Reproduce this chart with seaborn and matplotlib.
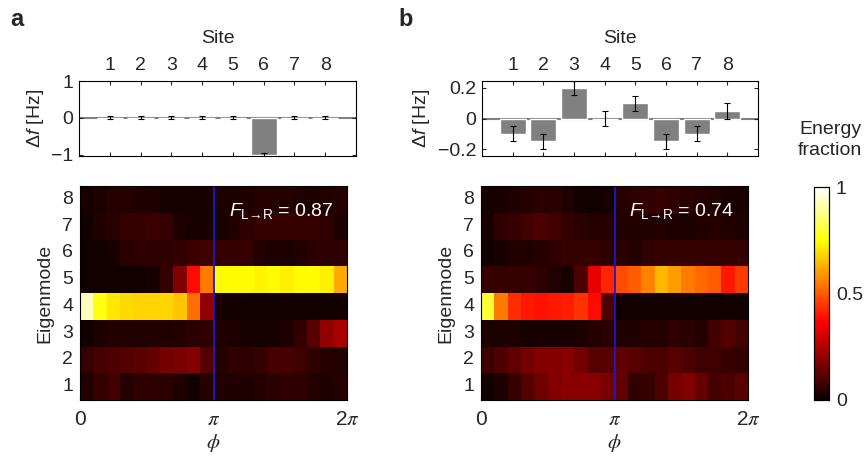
import numpy as np
import pandas as pd
import matplotlib
matplotlib.use("Agg")
import matplotlib.pyplot as plt
import seaborn as sns

# ---------------- data ----------------
sites = [1, 2, 3, 4, 5, 6, 7, 8]
shift_a = [0.0, 0.0, 0.0, 0.0, 0.0, -1.0, 0.0, 0.0]
err_a = [0.04, 0.04, 0.04, 0.04, 0.04, 0.04, 0.04, 0.04]
shift_b = [-0.10, -0.15, 0.20, 0.0, 0.10, -0.15, -0.10, 0.05]
err_b = [0.05, 0.05, 0.045, 0.05, 0.05, 0.05, 0.05, 0.05]

modes = [8, 7, 6, 5, 4, 3, 2, 1]

# energy fraction per eigenmode (20 phase steps from 0 to 2*pi), panel a
a_mode8 = [0.02, 0.03, 0.04, 0.04, 0.035, 0.03, 0.02, 0.02, 0.02, 0.02, 0.03, 0.03, 0.035, 0.04, 0.04, 0.04, 0.035, 0.03, 0.035, 0.04]
a_mode7 = [0.015, 0.035, 0.045, 0.07, 0.07, 0.075, 0.07, 0.03, 0.02, 0.02, 0.02, 0.035, 0.055, 0.065, 0.065, 0.07, 0.065, 0.065, 0.055, 0.03]
a_mode6 = [0.015, 0.015, 0.02, 0.05, 0.055, 0.055, 0.055, 0.06, 0.075, 0.08, 0.07, 0.07, 0.07, 0.035, 0.03, 0.03, 0.035, 0.05, 0.055, 0.055]
a_mode5 = [0.015, 0.015, 0.015, 0.015, 0.015, 0.02, 0.06, 0.18, 0.38, 0.55, 0.74, 0.74, 0.74, 0.73, 0.74, 0.72, 0.74, 0.74, 0.72, 0.62]
a_mode4 = [0.93, 0.76, 0.71, 0.69, 0.68, 0.68, 0.68, 0.66, 0.53, 0.20, 0.02, 0.015, 0.015, 0.015, 0.015, 0.015, 0.015, 0.015, 0.015, 0.015]
a_mode3 = [0.015, 0.03, 0.035, 0.035, 0.035, 0.035, 0.035, 0.04, 0.05, 0.055, 0.035, 0.03, 0.02, 0.02, 0.02, 0.03, 0.06, 0.12, 0.20, 0.24]
a_mode2 = [0.07, 0.09, 0.10, 0.11, 0.12, 0.14, 0.16, 0.17, 0.18, 0.11, 0.04, 0.055, 0.055, 0.065, 0.09, 0.09, 0.08, 0.055, 0.04, 0.035]
a_mode1 = [0.035, 0.07, 0.085, 0.04, 0.055, 0.055, 0.05, 0.035, 0.015, 0.04, 0.035, 0.035, 0.035, 0.04, 0.05, 0.055, 0.055, 0.04, 0.035, 0.04]

# energy fraction per eigenmode, panel b
b_mode8 = [0.02, 0.02, 0.035, 0.04, 0.05, 0.05, 0.035, 0.015, 0.015, 0.02, 0.04, 0.055, 0.06, 0.07, 0.055, 0.05, 0.04, 0.035, 0.02, 0.02]
b_mode7 = [0.02, 0.055, 0.07, 0.085, 0.10, 0.085, 0.07, 0.05, 0.04, 0.04, 0.035, 0.035, 0.035, 0.035, 0.03, 0.03, 0.035, 0.04, 0.035, 0.03]
b_mode6 = [0.015, 0.02, 0.035, 0.035, 0.04, 0.055, 0.065, 0.065, 0.065, 0.055, 0.05, 0.04, 0.055, 0.07, 0.07, 0.07, 0.07, 0.07, 0.065, 0.065]
b_mode5 = [0.07, 0.07, 0.07, 0.07, 0.055, 0.035, 0.02, 0.10, 0.33, 0.42, 0.48, 0.50, 0.56, 0.64, 0.60, 0.55, 0.52, 0.50, 0.40, 0.45]
b_mode4 = [0.80, 0.55, 0.43, 0.40, 0.39, 0.40, 0.41, 0.44, 0.38, 0.10, 0.015, 0.015, 0.015, 0.015, 0.015, 0.015, 0.015, 0.015, 0.015, 0.015]
b_mode3 = [0.03, 0.03, 0.03, 0.02, 0.02, 0.02, 0.02, 0.03, 0.04, 0.05, 0.035, 0.035, 0.04, 0.04, 0.055, 0.05, 0.04, 0.085, 0.11, 0.085]
b_mode2 = [0.08, 0.10, 0.13, 0.16, 0.18, 0.18, 0.19, 0.16, 0.12, 0.12, 0.13, 0.12, 0.10, 0.10, 0.12, 0.10, 0.08, 0.08, 0.07, 0.06]
b_mode1 = [0.015, 0.03, 0.07, 0.11, 0.15, 0.18, 0.19, 0.19, 0.19, 0.17, 0.13, 0.06, 0.07, 0.10, 0.16, 0.18, 0.14, 0.09, 0.10, 0.12]

fidelity_a = 0.87
fidelity_b = 0.74

# ---------------- style ----------------
sns.set_style("ticks")
plt.rcParams["font.family"] = ["Liberation Sans", "DejaVu Sans"]
plt.rcParams["mathtext.fontset"] = "custom"
plt.rcParams["mathtext.rm"] = "Liberation Sans"
plt.rcParams["mathtext.it"] = "Liberation Sans:italic"
plt.rcParams["mathtext.bf"] = "Liberation Sans:bold"
plt.rcParams["axes.linewidth"] = 0.8
plt.rcParams["axes.edgecolor"] = "black"

FS = 14
BAR_GREY = "#808080"

fig = plt.figure(figsize=(8.67, 4.58), dpi=100)
W, H = 867.0, 458.0


def px_axes(x0, y0, x1, y1):
    return fig.add_axes([x0 / W, 1 - y1 / H, (x1 - x0) / W, (y1 - y0) / H])


def bar_panel(ax, vals, errs, yticks, yticklabels, ylim):
    df = pd.DataFrame({"site": sites, "shift": vals})
    ax.axhline(0, color=BAR_GREY, lw=1.5, zorder=0.5)
    sns.barplot(data=df, x="site", y="shift", native_scale=True, color=BAR_GREY,
                saturation=1, width=0.85, errorbar=None, ax=ax, zorder=1)
    ax.errorbar(sites, vals, yerr=errs, fmt="none", ecolor="black",
                elinewidth=0.8, capsize=2, capthick=0.8, zorder=3)
    ax.set_xlim(0, 9)
    ax.set_ylim(*ylim)
    ax.set_xticks(sites)
    ax.set_xticklabels([str(s) for s in sites], fontsize=FS)
    ax.xaxis.set_label_position("top")
    ax.set_xlabel("Site", fontsize=FS, labelpad=10)
    ax.set_yticks(yticks)
    ax.set_yticklabels(yticklabels, fontsize=FS)
    ax.set_ylabel(r"$\Delta\mathit{f}$ [Hz]", fontsize=FS, labelpad=4)
    ax.tick_params(axis="x", which="both", top=True, bottom=True, labeltop=True,
                   labelbottom=False, direction="in", length=3, width=0.8, pad=5)
    ax.tick_params(axis="y", left=True, right=True, direction="in", length=3,
                   width=0.8, pad=4)
    for s in ax.spines.values():
        s.set_visible(True)
        s.set_linewidth(0.8)


def heat_panel(ax, rows, fidelity, cbar_ax=None):
    mat = pd.DataFrame(rows, index=modes)
    sns.heatmap(mat, cmap="hot", vmin=0, vmax=1, ax=ax,
                cbar=cbar_ax is not None, cbar_ax=cbar_ax)
    ncol = mat.shape[1]
    ax.axvline(ncol / 2, color="#1a1acc", lw=1.3)
    ax.set_yticks(np.arange(len(modes)) + 0.5)
    ax.set_yticklabels([str(m) for m in modes], fontsize=FS, rotation=0)
    ax.set_xticks([0, ncol / 2, ncol])
    ax.set_xticklabels(["0", r"$\pi$", r"2$\pi$"], fontsize=FS + 1,
                       math_fontfamily="stix", rotation=0)
    ax.set_xlabel(r"$\phi$", fontsize=FS + 1, math_fontfamily="stix", labelpad=2)
    ax.set_ylabel("Eigenmode", fontsize=FS, labelpad=6)
    ax.tick_params(axis="both", left=True, right=True, bottom=True,
                   direction="in", length=3, width=0.8, pad=5)
    ax.tick_params(axis="x", pad=7)
    for s in ax.spines.values():
        s.set_visible(True)
        s.set_linewidth(0.8)
        s.set_color("black")
    ax.text(0.95, 0.885,
            "$\\mathit{F}_{\\mathrm{L\u2192R}}$ = " + f"{fidelity:.2f}",
            transform=ax.transAxes, ha="right", va="center",
            color="white", fontsize=FS)


rows_a = [a_mode8, a_mode7, a_mode6, a_mode5, a_mode4, a_mode3, a_mode2, a_mode1]
rows_b = [b_mode8, b_mode7, b_mode6, b_mode5, b_mode4, b_mode3, b_mode2, b_mode1]

ax_bar_a = px_axes(79, 81, 356, 156)
ax_bar_b = px_axes(482, 81, 758, 156)
ax_hm_a = px_axes(80, 186, 347, 400)
ax_hm_b = px_axes(481, 186, 748, 400)
cax = px_axes(814, 187, 829, 400)

bar_panel(ax_bar_a, shift_a, err_a, [-1, 0, 1], ["\u22121", "0", "1"], (-1.04, 1.0))
bar_panel(ax_bar_b, shift_b, err_b, [-0.2, 0, 0.2], ["\u22120.2", "0", "0.2"], (-0.245, 0.245))
heat_panel(ax_hm_a, rows_a, fidelity_a)
heat_panel(ax_hm_b, rows_b, fidelity_b, cbar_ax=cax)

cax.set_yticks([0, 0.5, 1])
cax.set_yticklabels(["0", "0.5", "1"], fontsize=FS)
cax.tick_params(axis="y", direction="in", length=2, width=0.8, pad=5, right=True)
for s in cax.spines.values():
    s.set_visible(True)
    s.set_linewidth(0.8)
    s.set_color("black")

fig.text(830 / W, 1 - 140 / H, "Energy\nfraction", ha="center", va="center",
         fontsize=FS, linespacing=1.3)
fig.text(10 / W, 1 - 20 / H, "a", fontsize=17, fontweight="bold", va="center", ha="left")
fig.text(398 / W, 1 - 20 / H, "b", fontsize=17, fontweight="bold", va="center", ha="left")

fig.savefig("out.png", dpi=100)
